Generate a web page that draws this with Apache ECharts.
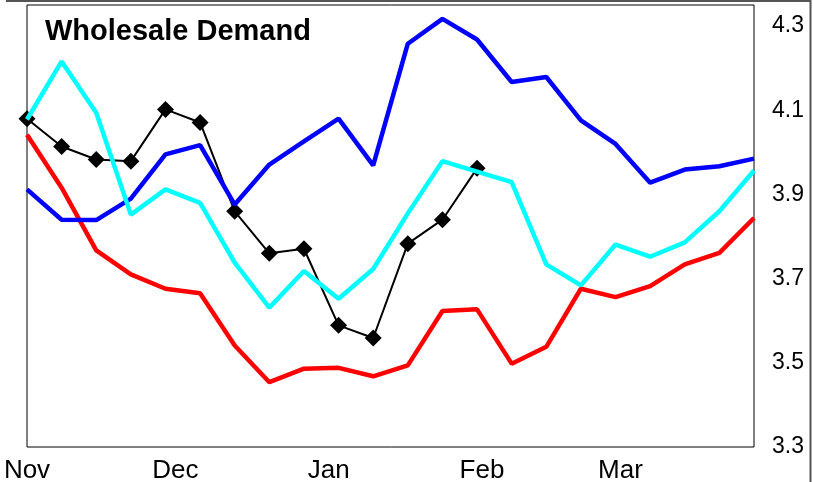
<!DOCTYPE html>
<html>
<head>
<meta charset="utf-8">
<script src="https://cdn.jsdelivr.net/npm/echarts@6/dist/echarts.min.js"></script>
<style>
html,body{margin:0;padding:0;background:#fff;}
#chart{width:813px;height:482px;}
</style>
</head>
<body>
<div id="chart"></div>
<script>
var weekDates = ['2022-11-01','2022-11-08','2022-11-15','2022-11-22','2022-11-29','2022-12-06','2022-12-13','2022-12-20','2022-12-27','2023-01-03','2023-01-10','2023-01-17','2023-01-24','2023-01-31','2023-02-07','2023-02-14','2023-02-21','2023-02-28','2023-03-07','2023-03-14','2023-03-21','2023-03-28'];
var blackValues = [4.080, 4.014, 3.983, 3.979, 4.102, 4.071, 3.860, 3.760, 3.771, 3.589, 3.559, 3.783, 3.840, 3.962];
var blueValues = [3.912, 3.840, 3.839, 3.890, 3.995, 4.017, 3.876, 3.971, 4.026, 4.080, 3.969, 4.258, 4.317, 4.268, 4.167, 4.179, 4.076, 4.020, 3.928, 3.959, 3.967, 3.985];
var cyanValues = [4.078, 4.216, 4.094, 3.852, 3.912, 3.880, 3.738, 3.631, 3.718, 3.652, 3.723, 3.855, 3.979, 3.954, 3.929, 3.734, 3.684, 3.781, 3.752, 3.786, 3.860, 3.957];
var redValues = [4.042, 3.916, 3.767, 3.710, 3.676, 3.665, 3.541, 3.454, 3.486, 3.488, 3.468, 3.494, 3.623, 3.627, 3.498, 3.538, 3.676, 3.656, 3.682, 3.734, 3.761, 3.844];
var monthTickDates = ['2022-11-01','2022-12-01','2023-01-01','2023-02-01','2023-03-01'];
var monthLabels = ['Nov','Dec','Jan','Feb','Mar'];
var yTicks = [3.3, 3.5, 3.7, 3.9, 4.1, 4.3];

function ts(s){ var p = s.split('-'); return Date.UTC(+p[0], +p[1]-1, +p[2]); }
var t0 = ts(weekDates[0]);
function dayOf(s){ return Math.round((ts(s) - t0) / 86400000); }
function pairs(vals){ return vals.map(function(v,i){ return [dayOf(weekDates[i]), v]; }); }
var monthDays = monthTickDates.map(dayOf);

var chart = echarts.init(document.getElementById('chart'), null, {renderer:'canvas'});
chart.setOption({
  animation:false,
  backgroundColor:'#fff',
  textStyle:{fontFamily:'Liberation Sans, Arial, sans-serif'},
  title:{
    text:'Wholesale Demand', left:45, top:17, padding:0,
    textStyle:{fontFamily:'Liberation Sans, Arial, sans-serif', fontSize:29, fontWeight:'bold', color:'#000'}
  },
  graphic:[{
    type:'polyline', silent:true,
    shape:{points:[[6,1],[810.5,1],[810.5,482]]},
    style:{stroke:'#555', lineWidth:2, fill:null}
  }],
  grid:{left:27, right:59, top:5, bottom:35, show:true, borderColor:'#000', borderWidth:1, backgroundColor:'transparent', outerBoundsMode:'none', containLabel:false},
  xAxis:{
    type:'value',
    min:0, max:dayOf(weekDates[weekDates.length-1]),
    axisLine:{show:false}, axisTick:{show:false}, splitLine:{show:false},
    axisLabel:{
      customValues:monthDays,
      formatter:function(v){ var i = monthDays.indexOf(Math.round(v)); return i<0 ? '' : monthLabels[i]; },
      fontSize:26, color:'#000', margin:11,
      fontFamily:'Liberation Sans, Arial, sans-serif',
      showMinLabel:true, showMaxLabel:true, hideOverlap:false
    }
  },
  yAxis:{
    type:'value', position:'right',
    min:3.3, max:4.35, interval:0.2,
    axisLine:{show:false}, axisTick:{show:false}, splitLine:{show:false},
    axisLabel:{
      fontSize:23, color:'#000', margin:18, showMaxLabel:false, padding:[7,0,0,0],
      fontFamily:'Liberation Sans, Arial, sans-serif',
      formatter:function(v){ for(var i=0;i<yTicks.length;i++){ if(Math.abs(v-yTicks[i])<1e-6) return yTicks[i].toFixed(1);} return ''; }
    }
  },
  series:[
    {name:'Black', type:'line', data:pairs(blackValues), symbol:'diamond', symbolSize:17, showSymbol:true,
      itemStyle:{color:'#000'}, lineStyle:{color:'#000', width:2}, z:2},
    {name:'Red', type:'line', data:pairs(redValues), showSymbol:false, symbol:'none',
      lineStyle:{color:'#ff0000', width:4.5}, z:3},
    {name:'Blue', type:'line', data:pairs(blueValues), showSymbol:false, symbol:'none',
      lineStyle:{color:'#0000ff', width:4.5}, z:4},
    {name:'Cyan', type:'line', data:pairs(cyanValues), showSymbol:false, symbol:'none',
      lineStyle:{color:'#00ffff', width:4.5}, z:5}
  ]
});
</script>
</body>
</html>
